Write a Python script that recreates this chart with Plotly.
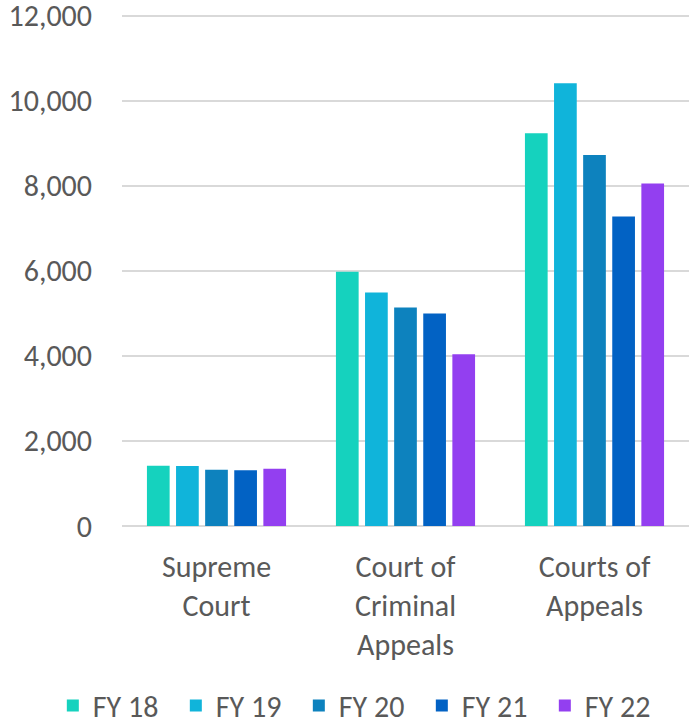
import plotly.graph_objects as go

categories = ["Supreme<br>Court", "Court of<br>Criminal<br>Appeals", "Courts of<br>Appeals"]
series_names = ["FY 18", "FY 19", "FY 20", "FY 21", "FY 22"]
fy18 = [1419, 5976, 9231]
fy19 = [1412, 5489, 10407]
fy20 = [1325, 5136, 8720]
fy21 = [1308, 4995, 7278]
fy22 = [1348, 4038, 8054]
series_values = [fy18, fy19, fy20, fy21, fy22]
colors = ["#15D2BE", "#10B4DA", "#0D82BE", "#0262C4", "#933FF0"]
y_ticks = [0, 2000, 4000, 6000, 8000, 10000, 12000]

FONT = "Carlito, Lato, sans-serif"
TXT = "#595959"

fig = go.Figure()
for name, vals, col in zip(series_names, series_values, colors):
    fig.add_trace(go.Bar(x=categories, y=vals, name=name, marker_color=col))

fig.update_layout(
    template="none",
    width=692, height=721,
    margin=dict(l=122, r=3, t=13, b=195, autoexpand=False),
    paper_bgcolor="white", plot_bgcolor="white",
    barmode="group", bargap=0.23, bargroupgap=0.22,
    font=dict(family=FONT, size=30, color=TXT),
    showlegend=True,
    legend=dict(orientation="h", xref="paper", yref="paper",
                x=-0.122, xanchor="left", y=-0.35, yanchor="middle",
                entrywidth=78, entrywidthmode="pixels",
                bgcolor="rgba(0,0,0,0)",
                font=dict(family=FONT, size=30, color=TXT)),
)
fig.update_yaxes(range=[0, 12060], tickvals=y_ticks, tickformat=",",
                 showgrid=True, gridcolor="#D9D9D9", gridwidth=1.5,
                 zeroline=True, zerolinecolor="#D9D9D9", zerolinewidth=1.5,
                 showline=False, ticks="", ticklabelstandoff=29, automargin=False,
                 ticklabeloverflow="allow")
fig.update_xaxes(showline=False, ticks="", showgrid=False, ticklabelstandoff=20, automargin=False)

fig.write_html("out.html", config={"displayModeBar": False},
               post_script="document.body.style.margin='0';document.body.style.padding='0';")
